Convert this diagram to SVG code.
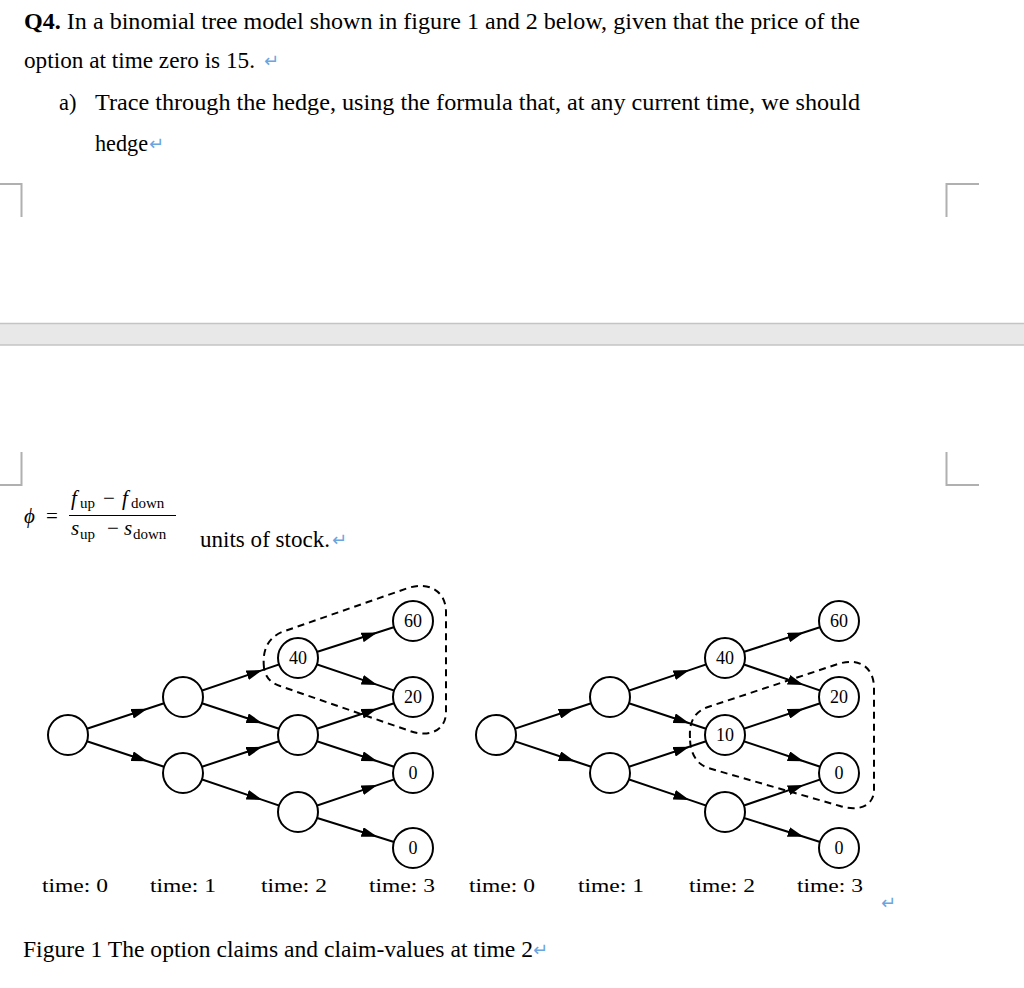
<svg xmlns="http://www.w3.org/2000/svg" width="1024" height="988" viewBox="0 0 1024 988">
<style>
.body{font-family:"Liberation Serif","Times New Roman",serif;font-size:22.5px;fill:#000}
.ret{font-family:"DejaVu Sans",sans-serif;font-size:18px;fill:#6aa5e0}
.math{font-family:"Liberation Serif","DejaVu Serif",serif;font-size:21px;font-style:italic;fill:#000}
.sub{font-family:"Liberation Serif",serif;font-size:15px;fill:#000}
.op{font-family:"Liberation Serif",serif;font-size:21px;fill:#000}
.edge{fill:none;stroke:#000;stroke-width:2;marker-mid:url(#ah)}
.node{fill:#fff;stroke:#000;stroke-width:2}
.lab{font-family:"Liberation Serif",serif;font-size:18px;fill:#000;text-anchor:middle}
.time{font-family:"Liberation Serif",serif;font-size:19px;fill:#000}
.dash{fill:none;stroke:#000;stroke-width:2;stroke-dasharray:7 5}
.corner{fill:none;stroke:#b0b0b0;stroke-width:2}
</style>
<defs>
<marker id="ah" markerUnits="userSpaceOnUse" viewBox="0 0 16 10" refX="16" refY="5" markerWidth="16" markerHeight="10" orient="auto">
<path d="M0,0 L16,5 L0,10 Z" fill="#000"/>
</marker>
</defs>
<rect width="1024" height="988" fill="#fff"/>

<g id="question">
<text class="body" x="24" y="29" textLength="836" lengthAdjust="spacingAndGlyphs"><tspan font-weight="bold">Q4.</tspan> In a binomial tree model shown in figure 1 and 2 below, given that the price of the</text>
<text class="body" x="24" y="68" textLength="231" lengthAdjust="spacingAndGlyphs">option at time zero is 15.</text>
<text class="ret" x="264" y="67">↵</text>
<text class="body" x="59" y="110">a)</text>
<text class="body" x="95" y="110" textLength="765" lengthAdjust="spacingAndGlyphs">Trace through the hedge, using the formula that, at any current time, we should</text>
<text class="body" x="95" y="151" textLength="53" lengthAdjust="spacingAndGlyphs">hedge</text>
<text class="ret" x="149" y="150">↵</text>
</g>

<g id="page-marks">
<polyline class="corner" points="0,184 21.5,184 21.5,217"/>
<polyline class="corner" points="979,184 946.5,184 946.5,217"/>
<polyline class="corner" points="0,485 21.5,485 21.5,452"/>
<polyline class="corner" points="979,485 946.5,485 946.5,452"/>
<rect x="0" y="323" width="1024" height="22" fill="#e8e8e8"/>
<line x1="0" y1="323.5" x2="1024" y2="323.5" stroke="#c4c4c4" stroke-width="1.5"/>
<line x1="0" y1="345" x2="1024" y2="345" stroke="#c4c4c4" stroke-width="1.5"/>
</g>

<g id="formula">
<text class="math" x="24" y="523">ϕ</text>
<text class="op" x="46" y="523">=</text>
<text class="math" x="71" y="505">f</text>
<text class="sub" x="80" y="508">up</text>
<text class="op" x="103" y="505">−</text>
<text class="math" x="122" y="505">f</text>
<text class="sub" x="131" y="508">down</text>
<line x1="69" y1="515.5" x2="176" y2="515.5" stroke="#000" stroke-width="1"/>
<text class="math" x="71" y="535">s</text>
<text class="sub" x="80" y="539">up</text>
<text class="op" x="107" y="535">−</text>
<text class="math" x="124" y="535">s</text>
<text class="sub" x="133" y="539">down</text>
<text class="body" x="200" y="547" textLength="130" lengthAdjust="spacingAndGlyphs">units of stock.</text>
<text class="ret" x="332" y="546">↵</text>
</g>

<g id="connectors">
<polyline class="edge" points="68,735 147.4,708.8 183,697"/>
<polyline class="edge" points="68,735 147.4,761.2 183,773"/>
<polyline class="edge" points="183,697 262.4,670.1 298,658"/>
<polyline class="edge" points="183,697 262.4,723.2 298,735"/>
<polyline class="edge" points="183,773 262.4,746.8 298,735"/>
<polyline class="edge" points="183,773 262.4,799.9 298,812"/>
<polyline class="edge" points="298,658 377.4,632.5 413,621"/>
<polyline class="edge" points="298,658 377.4,684.9 413,697"/>
<polyline class="edge" points="298,735 377.4,708.8 413,697"/>
<polyline class="edge" points="298,735 377.4,761.2 413,773"/>
<polyline class="edge" points="298,812 377.4,785.1 413,773"/>
<polyline class="edge" points="298,812 377.4,836.8 413,848"/>

<polyline class="edge" points="496,735 574.7,708.8 610,697"/>
<polyline class="edge" points="496,735 574.7,761.2 610,773"/>
<polyline class="edge" points="610,697 689.4,670.1 725,658"/>
<polyline class="edge" points="610,697 689.4,723.2 725,735"/>
<polyline class="edge" points="610,773 689.4,746.8 725,735"/>
<polyline class="edge" points="610,773 689.4,799.9 725,812"/>
<polyline class="edge" points="725,658 803.7,632.5 839,621"/>
<polyline class="edge" points="725,658 803.7,684.9 839,697"/>
<polyline class="edge" points="725,735 803.7,708.8 839,697"/>
<polyline class="edge" points="725,735 803.7,761.2 839,773"/>
<polyline class="edge" points="725,812 803.7,785.1 839,773"/>
<polyline class="edge" points="725,812 803.7,836.8 839,848"/>

<path class="dash" d="M264,668 C262,650 268,638 282,632 L408,588 C430,581 446,592 446,612 L446,712 C446,730 430,738 410,731 L280,686 C270,683 265,676 264,668 Z"/>
<path class="dash" d="M690,738 C689,722 694,712 708,707 L838,664 C860,657 874,668 874,688 L874,790 C874,806 858,812 840,806 L708,768 C696,764 690,752 690,738 Z"/>
</g>

<g id="tree1-t0"><circle class="node" cx="68" cy="735" r="20"/></g>
<g id="tree1-t1u"><circle class="node" cx="183" cy="697" r="20"/></g>
<g id="tree1-t1d"><circle class="node" cx="183" cy="773" r="20"/></g>
<g id="tree1-t2a"><circle class="node" cx="298" cy="658" r="20"/><text class="lab" x="298" y="664">40</text></g>
<g id="tree1-t2b"><circle class="node" cx="298" cy="735" r="20"/></g>
<g id="tree1-t2c"><circle class="node" cx="298" cy="812" r="20"/></g>
<g id="tree1-t3a"><circle class="node" cx="413" cy="621" r="20"/><text class="lab" x="413" y="627">60</text></g>
<g id="tree1-t3b"><circle class="node" cx="413" cy="697" r="20"/><text class="lab" x="413" y="703">20</text></g>
<g id="tree1-t3c"><circle class="node" cx="413" cy="773" r="20"/><text class="lab" x="413" y="779">0</text></g>
<g id="tree1-t3d"><circle class="node" cx="413" cy="848" r="20"/><text class="lab" x="413" y="854">0</text></g>

<g id="tree2-t0"><circle class="node" cx="496" cy="735" r="20"/></g>
<g id="tree2-t1u"><circle class="node" cx="610" cy="697" r="20"/></g>
<g id="tree2-t1d"><circle class="node" cx="610" cy="773" r="20"/></g>
<g id="tree2-t2a"><circle class="node" cx="725" cy="658" r="20"/><text class="lab" x="725" y="664">40</text></g>
<g id="tree2-t2b"><circle class="node" cx="725" cy="735" r="20"/><text class="lab" x="725" y="741">10</text></g>
<g id="tree2-t2c"><circle class="node" cx="725" cy="812" r="20"/></g>
<g id="tree2-t3a"><circle class="node" cx="839" cy="621" r="20"/><text class="lab" x="839" y="627">60</text></g>
<g id="tree2-t3b"><circle class="node" cx="839" cy="697" r="20"/><text class="lab" x="839" y="703">20</text></g>
<g id="tree2-t3c"><circle class="node" cx="839" cy="773" r="20"/><text class="lab" x="839" y="779">0</text></g>
<g id="tree2-t3d"><circle class="node" cx="839" cy="848" r="20"/><text class="lab" x="839" y="854">0</text></g>

<g id="time-labels">
<text class="time" x="42" y="892" textLength="66" lengthAdjust="spacingAndGlyphs">time: 0</text>
<text class="time" x="150" y="892" textLength="66" lengthAdjust="spacingAndGlyphs">time: 1</text>
<text class="time" x="261" y="892" textLength="66" lengthAdjust="spacingAndGlyphs">time: 2</text>
<text class="time" x="369" y="892" textLength="66" lengthAdjust="spacingAndGlyphs">time: 3</text>
<text class="time" x="469" y="892" textLength="66" lengthAdjust="spacingAndGlyphs">time: 0</text>
<text class="time" x="578" y="892" textLength="66" lengthAdjust="spacingAndGlyphs">time: 1</text>
<text class="time" x="689" y="892" textLength="66" lengthAdjust="spacingAndGlyphs">time: 2</text>
<text class="time" x="797" y="892" textLength="66" lengthAdjust="spacingAndGlyphs">time: 3</text>
<text class="ret" x="881" y="909">↵</text>
</g>

<g id="caption">
<text class="body" x="23" y="957" textLength="510" lengthAdjust="spacingAndGlyphs">Figure 1 The option claims and claim-values at time 2</text>
<text class="ret" x="533" y="956">↵</text>
</g>
</svg>
